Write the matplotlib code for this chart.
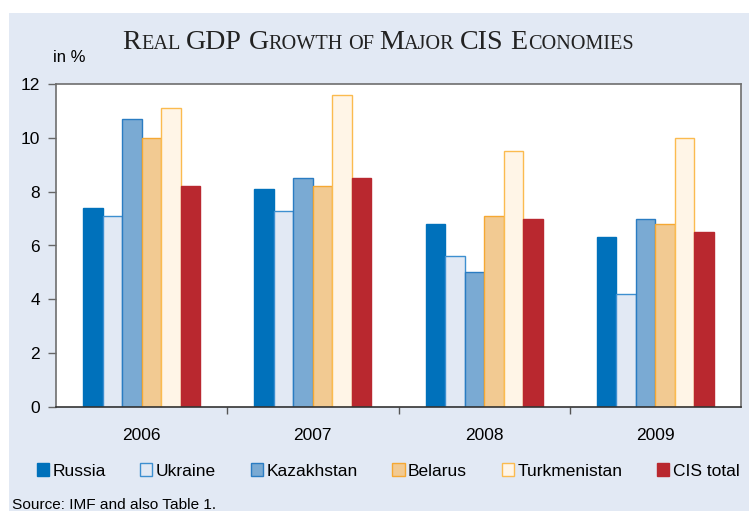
import numpy as np
import matplotlib
matplotlib.use("Agg")
import matplotlib.pyplot as plt
from matplotlib.patches import Rectangle

plt.rcParams['font.family'] = ['Liberation Sans', 'DejaVu Sans']

years = ["2006", "2007", "2008", "2009"]
countries = ["Russia", "Ukraine", "Kazakhstan", "Belarus", "Turkmenistan", "CIS total"]
russia = [7.4, 8.1, 6.8, 6.3]
ukraine = [7.1, 7.3, 5.6, 4.2]
kazakhstan = [10.7, 8.5, 5.0, 7.0]
belarus = [10.0, 8.2, 7.1, 6.8]
turkmenistan = [11.1, 11.6, 9.5, 10.0]
cis_total = [8.2, 8.5, 7.0, 6.5]
series = [russia, ukraine, kazakhstan, belarus, turkmenistan, cis_total]

fills = ["#0071bb", "#e2e9f4", "#7aaad3", "#f2ca92", "#fff5e7", "#b9282f"]
edges = ["#0071bb", "#3d8fd0", "#2a7cc2", "#f5a833", "#fbbb4f", "#b9282f"]

bg = "#e2e9f4"

fig = plt.figure(figsize=(7.49, 5.11), dpi=100)
fig.patch.set_facecolor("white")
fig.patches.append(Rectangle((9 / 749, 0), 1, (511 - 13) / 511,
                             transform=fig.transFigure, facecolor=bg,
                             edgecolor="none", zorder=-10))

ax = fig.add_axes([56 / 749, 104 / 511, 685 / 749, 323 / 511])
ax.set_facecolor("white")

x = np.arange(len(years))
w = 0.114
for i, (vals, name) in enumerate(zip(series, countries)):
    ax.bar(x + (i - 2.5) * w, vals, width=w, color=fills[i], edgecolor=edges[i],
           linewidth=1.0, label=name, zorder=2)

ax.set_xlim(-0.5, 3.5)
ax.set_ylim(0, 12)
ax.set_yticks(np.arange(0, 13, 2))
ax.set_xticks(x)
ax.set_xticklabels(years)
ax.set_xticks([0.5, 1.5, 2.5], minor=True)
ax.tick_params(axis="x", which="major", length=0, pad=15, labelsize=12.5)
ax.tick_params(axis="x", which="minor", length=5, width=1, color="#555555", direction="out")
ax.tick_params(axis="y", length=6, width=1, color="#666666", direction="out",
               pad=5.5, labelsize=12.5)
for s in ["top", "right", "left"]:
    ax.spines[s].set_color("#6e6e6e")
    ax.spines[s].set_linewidth(1.2)
ax.spines["bottom"].set_color("#333333")
ax.spines["bottom"].set_linewidth(1.2)

fig.text(53 / 749, 1 - 58 / 511, "in %", fontsize=12, va="center", ha="left")

# title in small caps, built from pieces sharing one baseline
pieces = [("R", 1), ("EAL", 0), (" ", 0), ("GDP", 1), (" ", 1), ("G", 1), ("ROWTH", 0),
          (" ", 0), ("OF", 0), (" ", 0), ("M", 1), ("AJOR", 0), (" ", 0), ("CIS", 1),
          (" ", 1), ("E", 1), ("CONOMIES", 0)]
big, small = 20.2, 14.6
renderer = fig.canvas.get_renderer()
figw = fig.get_figwidth() * fig.dpi


def width_of(s, size):
    if s == " ":
        a = fig.text(0, 0, "aa", fontsize=size, family="Liberation Serif")
        b = fig.text(0, 0, "a a", fontsize=size, family="Liberation Serif")
        wv = b.get_window_extent(renderer).width - a.get_window_extent(renderer).width
        a.remove()
        b.remove()
        return wv
    t = fig.text(0, 0, s, fontsize=size, family="Liberation Serif")
    wv = t.get_window_extent(renderer).width
    t.remove()
    return wv


widths = [width_of(s, big if c else small) for s, c in pieces]
total = sum(widths)
xpos = 378 - total / 2
base_y = 1 - 49 / 511
for (s, c), wv in zip(pieces, widths):
    if s != " ":
        fig.text(xpos / figw, base_y, s, fontsize=big if c else small,
                 family="Liberation Serif", va="baseline", ha="left", color="#222222")
    xpos += wv

handles, labels = ax.get_legend_handles_labels()
fig.legend(handles, labels, ncol=6, loc="center", bbox_to_anchor=(388 / 749, 1 - 471 / 511),
           frameon=False, fontsize=12.5, handlelength=0.7, handleheight=0.7,
           handletextpad=0.2, columnspacing=2.0, borderaxespad=0)

fig.text(12 / 749, 1 - 505 / 511, "Source: IMF and also Table 1.", fontsize=11.1,
         va="center", ha="left")

fig.savefig("out.png", dpi=100, facecolor=fig.get_facecolor())
